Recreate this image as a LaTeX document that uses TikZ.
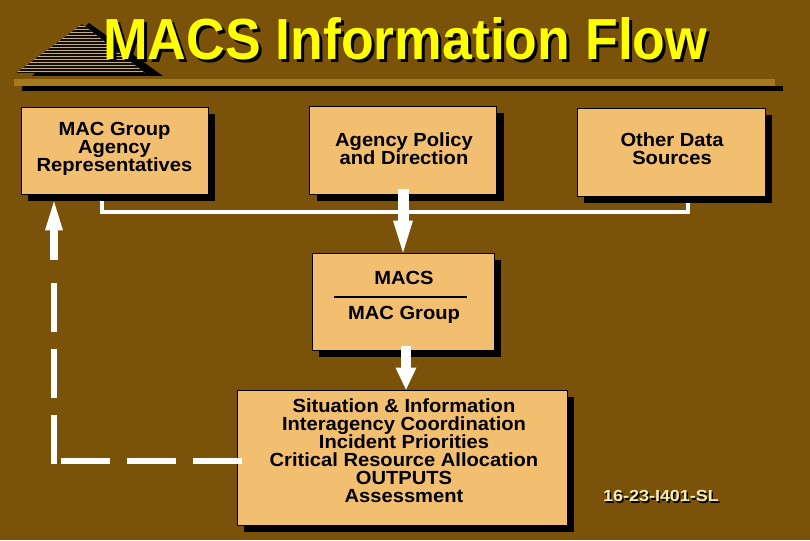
\documentclass[tikz,border=0pt]{standalone}
\usepackage{fontspec}
\setmainfont{Liberation Sans}
\newfontfamily\boxfont[FakeStretch=1.06]{Liberation Sans}
\newfontfamily\codefont[FakeStretch=1.12]{Liberation Sans}
\usetikzlibrary{arrows.meta,shadows}
\definecolor{bgc}{HTML}{7B5209}
\definecolor{boxfill}{HTML}{F2BE70}
\definecolor{barc}{HTML}{A87A1E}
\definecolor{ttl}{HTML}{FFFF00}
\definecolor{codec}{HTML}{F8EBB0}
\definecolor{stripec}{HTML}{C4AA88}
\begin{document}
\begin{tikzpicture}[x=1pt,y=-1pt,
  box/.style={draw=black, line width=0.8pt, fill=boxfill, inner sep=0pt,
    drop shadow={shadow xshift=7pt, shadow yshift=-7pt, fill=black, opacity=1}},
  boxtext/.style={align=center, inner sep=0pt, font=\boxfont\bfseries\fontsize{19}{18}\selectfont},
  wline/.style={draw=white, line width=4pt},
  fatA/.style={draw=white, line width=11pt, -{Triangle[width=20pt,length=32pt,line width=0pt]}},
  fatB/.style={draw=white, line width=10pt, -{Triangle[width=21pt,length=22pt,line width=0pt]}},
  fatC/.style={draw=white, line width=8pt, -{Triangle[width=18pt,length=29pt,line width=0pt]}},
  fbdash/.style={draw=white, line width=6pt, dash pattern=on 49pt off 17pt}
]
% background
\fill[bgc] (0,0) rectangle (810,540);
\useasboundingbox (0,0) rectangle (810,540);

% logo pyramid
\fill[black] (32,76) -- (89,23) -- (163,76) -- cycle;
\begin{scope}
  \clip (16,73) -- (82,24) -- (145,73) -- cycle;
  \fill[stripec] (10,20) rectangle (170,80);
  \foreach \yy in {25,28,...,73} \draw[black!85!bgc, line width=1.2pt] (10,\yy) -- (170,\yy);
\end{scope}

% title bar
\fill[black] (22,86) rectangle (783,91);
\fill[barc] (14,79) rectangle (775,86);

% title
\node[anchor=south west, inner sep=0pt, text=black] (ttlsh) at (106,63)
  {\resizebox{604pt}{42pt}{\bfseries MACS Information Flow}};
\node[anchor=south west, inner sep=0pt, text=ttl] (ttlmain) at (103,60)
  {\resizebox{604pt}{42pt}{\bfseries MACS Information Flow}};

% boxes
\node[box, minimum width=187pt, minimum height=87pt] (b1) at (114.5,150.5) {};
\node[boxtext] (t1) at (114.5,149) {MAC Group\\Agency\\Representatives};

\node[box, minimum width=187pt, minimum height=88pt] (b2) at (403,150) {};
\node[boxtext] (t2) at (404,149) {Agency Policy\\and Direction};

\node[box, minimum width=188pt, minimum height=88pt] (b3) at (671,152) {};
\node[boxtext] (t3) at (672,149) {Other Data\\Sources};

\node[box, minimum width=182pt, minimum height=97pt] (b4) at (403,301.5) {};
\node[boxtext] (t4a) at (404,278) {MACS};
\node[boxtext] (t4b) at (404,315) {MAC Group};
\draw[black, line width=1.5pt] (334,297) -- (467,297);

\node[box, minimum width=330pt, minimum height=135pt] (b5) at (402,457.5) {};
\node[boxtext] (t5) at (404,451) {Situation \& Information\\Interagency Coordination\\Incident Priorities\\Critical Resource Allocation\\OUTPUTS\\Assessment};

% white bracket from side boxes
\coordinate (brL) at (102,212);
\coordinate (brR) at (688,212);
\draw[wline] ([yshift=-7pt]b1.south -| brL) -- (brL) -- (brR) -- ([yshift=-7pt]b3.south -| brR);

% fat arrows
\draw[fatA] ([yshift=5pt]b2.south -| b4.north) -- (b4.north);
\coordinate (a2x) at (406,0);
\draw[fatB] ([yshift=4pt]b4.south -| a2x) -- (b5.north -| a2x);

% feedback dashed path
\coordinate (fbC) at (54,461);
\coordinate (fbT) at (54,282);
\coordinate (fbS) at (54,260);
\draw[fbdash] (b5.west |- fbC) ++(5,0) -- (fbC);
\draw[fbdash] ([yshift=-3pt]fbC) -- (fbT);
\draw[fatC] (fbS) -- ([yshift=-7pt]b1.south -| fbS);

% code label
\node[inner sep=0pt, text=black, font=\codefont\bfseries\fontsize{16}{16}\selectfont] (codesh) at (662.5,497.5) {16-23-I401-SL};
\node[inner sep=0pt, text=codec, font=\codefont\bfseries\fontsize{16}{16}\selectfont] (code) at (661,496) {16-23-I401-SL};
\end{tikzpicture}
\end{document}
